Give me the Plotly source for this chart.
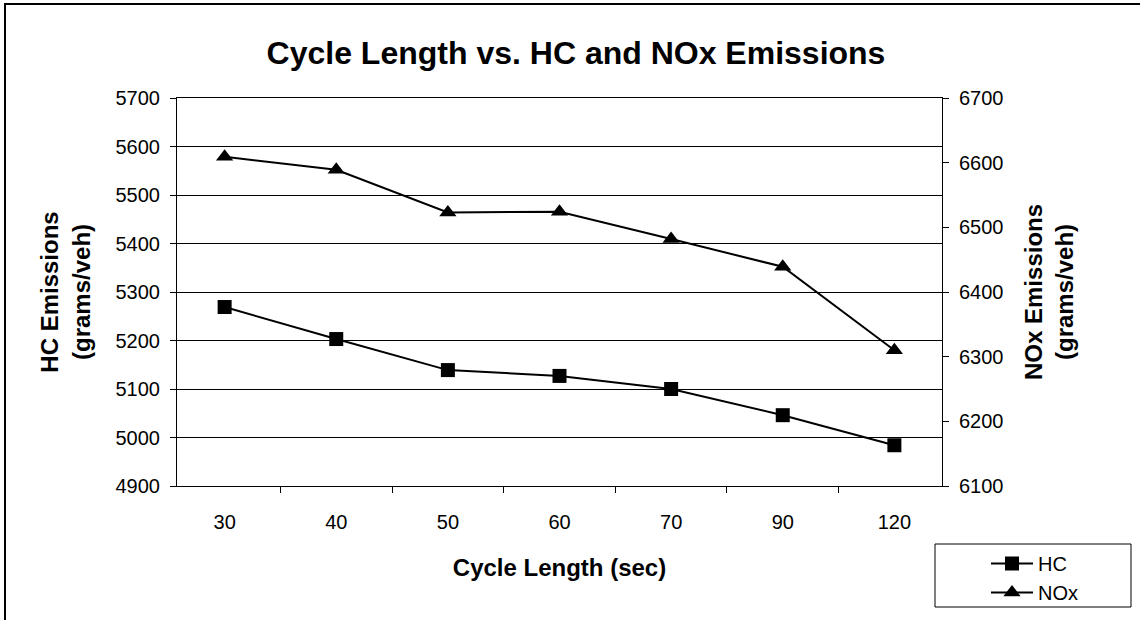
import plotly.graph_objects as go

cycle_length = ["30", "40", "50", "60", "70", "90", "120"]
hc_emissions = [5269, 5203, 5139, 5127, 5100, 5046, 4984]
nox_emissions = [6609, 6589, 6523, 6524, 6482, 6439, 6310]
hc_ticks = [4900, 5000, 5100, 5200, 5300, 5400, 5500, 5600, 5700]
nox_ticks = [6100, 6200, 6300, 6400, 6500, 6600, 6700]

FONT = "Arial, Liberation Sans, sans-serif"
W, H = 1140, 620
L, R, T, B = 177, 942, 98, 486

def px_x(p):
    return (p - L) / (R - L)

def px_y(p):
    return (B - p) / (B - T)

fig = go.Figure()
fig.add_trace(go.Scatter(
    x=cycle_length, y=hc_emissions, name="HC", mode="lines+markers",
    line=dict(color="black", width=2),
    marker=dict(symbol="square", size=14, color="black"),
    yaxis="y",
))
fig.add_trace(go.Scatter(
    x=cycle_length, y=nox_emissions, name="NOx", mode="lines+markers",
    line=dict(color="black", width=2),
    marker=dict(symbol="triangle-up", size=15, color="black"),
    yaxis="y2",
))

fig.update_layout(
    width=W, height=H,
    margin=dict(l=L, r=W - R, t=T, b=H - B, pad=0, autoexpand=False),
    paper_bgcolor="white", plot_bgcolor="white",
    font=dict(family=FONT, color="black", size=20),
    title=dict(text="<b>Cycle Length vs. HC and NOx Emissions</b>",
               x=576 / W, xanchor="center", y=1 - 53 / H, yanchor="middle",
               font=dict(size=32, family=FONT, color="black")),
    xaxis=dict(
        type="category", tickson="boundaries", ticks="outside", ticklen=6,
        tickcolor="black", showline=True, linecolor="black", linewidth=1,
        mirror=True, showgrid=False, ticklabelstandoff=18, automargin=True,
        tickfont=dict(size=20),
        title=dict(text="<b>Cycle Length (sec)</b>", standoff=27,
                   font=dict(size=24)),
    ),
    yaxis=dict(
        range=[hc_ticks[0], hc_ticks[-1]], tickvals=hc_ticks,
        ticks="outside", ticklen=6, tickcolor="black",
        showline=True, linecolor="black", linewidth=1, automargin=True,
        showgrid=True, gridcolor="black", gridwidth=1, zeroline=False,
        tickfont=dict(size=20), ticklabelstandoff=6,
        title=dict(text="<b>HC Emissions<br>(grams/veh)</b>", standoff=18,
                   font=dict(size=24)),
    ),
    yaxis2=dict(
        range=[nox_ticks[0], nox_ticks[-1]], tickvals=nox_ticks,
        overlaying="y", side="right", automargin=True,
        ticks="outside", ticklen=6, tickcolor="black",
        showline=True, linecolor="black", linewidth=1,
        showgrid=False, zeroline=False,
        tickfont=dict(size=20), ticklabelstandoff=6,
    ),
    annotations=[dict(
        text="<b>NOx Emissions<br>(grams/veh)</b>", textangle=-90,
        xref="paper", yref="paper", x=px_x(1049), y=0.5,
        xanchor="center", yanchor="middle", showarrow=False,
        font=dict(size=24, family=FONT, color="black"),
    )],
    legend=dict(
        xref="container", yref="container",
        x=986 / W, y=1 - 544 / H, xanchor="left", yanchor="top",
        borderwidth=0, bgcolor="rgba(0,0,0,0)",
        font=dict(size=20), itemwidth=42, tracegroupgap=0,
    ),
    showlegend=True,
    shapes=[
        dict(type="rect", xref="paper", yref="paper",
             x0=px_x(5), x1=px_x(1150), y0=px_y(630), y1=px_y(4),
             line=dict(color="black", width=2), fillcolor="rgba(0,0,0,0)",
             layer="below"),
        dict(type="rect", xref="paper", yref="paper",
             x0=px_x(935), x1=px_x(1131), y0=px_y(607), y1=px_y(544),
             line=dict(color="black", width=1), fillcolor="white",
             layer="below"),
    ],
)

fig.write_html("out.html")
